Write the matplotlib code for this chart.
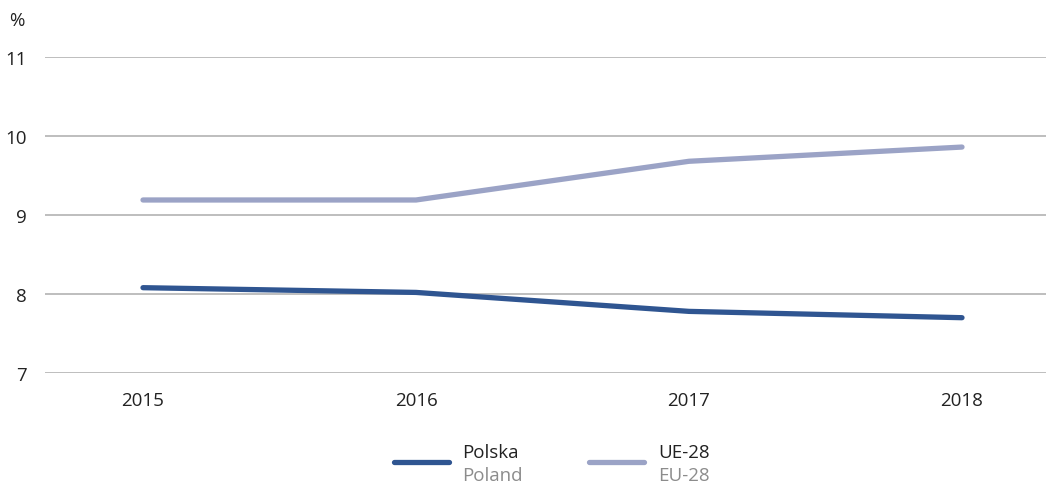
import matplotlib
matplotlib.use("Agg")
import matplotlib.pyplot as plt
from matplotlib.lines import Line2D

years = [2015, 2016, 2017, 2018]
polska = [8.08, 8.02, 7.78, 7.70]
ue28 = [9.19, 9.19, 9.68, 9.86]
yticks = [7, 8, 9, 10, 11]

plt.rcParams['font.family'] = ['Open Sans', 'DejaVu Sans']

W, H = 1048, 485
fig = plt.figure(figsize=(W/100, H/100), dpi=100)
ax = fig.add_axes([45/W, 1-374/H, 1001/W, (374-58)/H])

c_pl = '#2f5591'
c_eu = '#9ba3c6'
ax.plot(years, polska, color=c_pl, lw=3.8, solid_capstyle='round', zorder=3)
ax.plot(years, ue28, color=c_eu, lw=3.8, solid_capstyle='round', zorder=3)

ax.set_ylim(7, 11)
ax.set_xlim(2015 - 98/273, 2018 + 84/273)
ax.set_yticks(yticks)
ax.set_yticklabels([str(v) for v in yticks])
ax.set_xticks(years)
ax.set_xticklabels([str(y) for y in years])
ax.grid(axis='y', color='#b3b3b3', lw=1.2)
ax.set_axisbelow(True)
for s in ax.spines.values():
    s.set_visible(False)
ax.tick_params(length=0, labelsize=13.5, colors='#222222')
ax.tick_params(axis='y', pad=13)
ax.tick_params(axis='x', pad=13)

fig.text(9/W, 1-21/H, '%', fontsize=13.5, color='#222222', va='center', ha='left')

# legend
def leg(x0, x1, tx, top, bottom, color):
    fig.add_artist(Line2D([x0/W, x1/W], [1-463/H, 1-463/H], color=color, lw=3.8,
                          solid_capstyle='round', transform=fig.transFigure))
    fig.text(tx/W, 1-453/H, top, fontsize=13.5, color='#222222', va='center', ha='left')
    fig.text(tx/W, 1-476/H, bottom, fontsize=13.5, color='#8c8c8c', va='center', ha='left')

leg(394, 449, 462, 'Polska', 'Poland', c_pl)
leg(589, 644, 658, 'UE-28', 'EU-28', c_eu)

fig.savefig('out.png', dpi=100)
